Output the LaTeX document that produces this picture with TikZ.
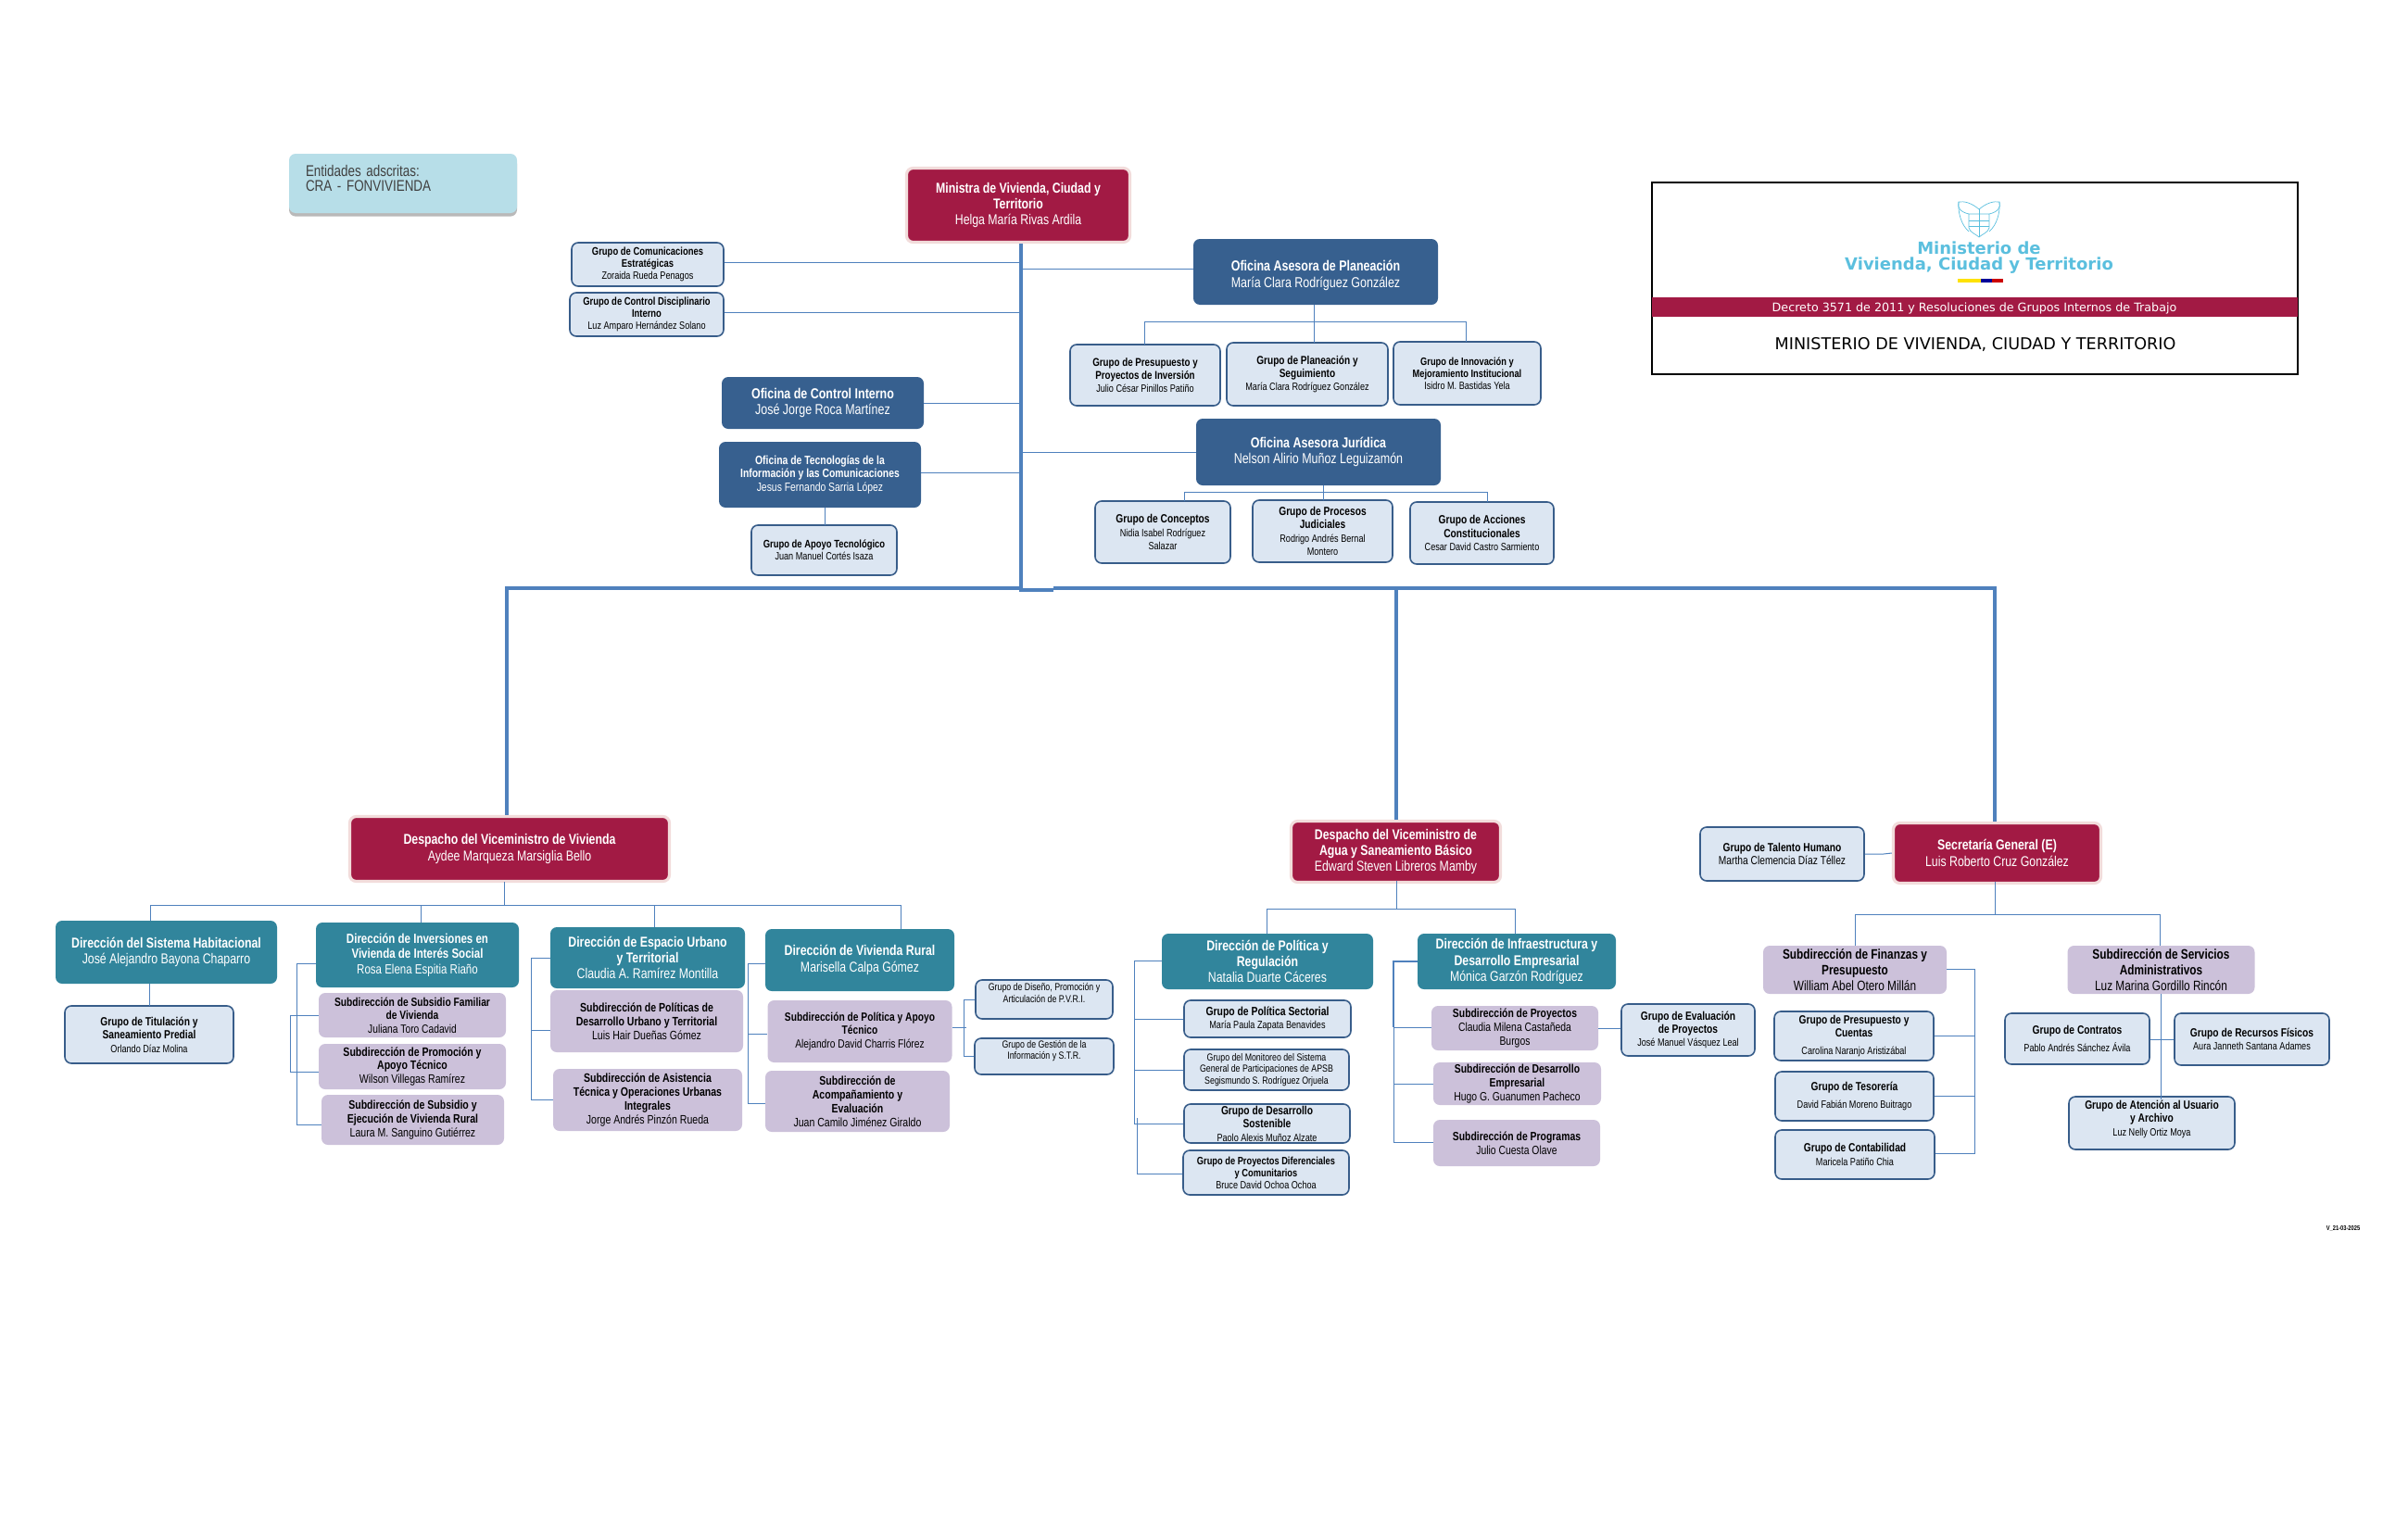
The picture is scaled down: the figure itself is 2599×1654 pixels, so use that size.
\documentclass[tikz,border=0pt]{standalone}
\usepackage{fontspec}
\setmainfont[FakeStretch=0.8]{Liberation Sans}
\newfontfamily\marca{DejaVu Sans}
\usetikzlibrary{shadows}
\definecolor{rojo}{HTML}{A21A44}
\definecolor{rosa}{HTML}{F2DCDB}
\definecolor{azul}{HTML}{37608F}
\definecolor{teal}{HTML}{31859C}
\definecolor{lila}{HTML}{CCC1DA}
\definecolor{claro}{HTML}{DCE6F2}
\definecolor{borde}{HTML}{385D8A}
\definecolor{linea}{HTML}{4F81BD}
\definecolor{cielo}{HTML}{B7DEE8}
\definecolor{logo}{HTML}{5BBFDE}
\newcommand{\fs}[1]{\fontsize{#1}{1.13\dimexpr#1pt\relax}\selectfont}
\newcommand{\nm}[1]{{\fontsize{5.7}{6.6}\selectfont #1}}
\tikzset{
  wh/.style 2 args={minimum width=#1*0.5pt,minimum height=#2*0.5pt},
  caja/.style={align=center,inner sep=0pt,rounded corners=3.5pt},
  despacho/.style={caja,fill=rojo,draw=rosa,line width=1.6pt,text=white,font=\fs{7.7}},
  oficina/.style={caja,fill=azul,text=white,font=\fs{7.8}},
  direccion/.style={caja,fill=teal,text=white,font=\fs{7.7}},
  subdir/.style={caja,fill=lila,font=\fs{6.6}},
  grupo/.style={caja,fill=claro,draw=borde,line width=0.8pt,font=\fs{6.4}},
  rama/.style={draw=linea,line width=0.5pt},
  tronco/.style={draw=linea,line width=1.9pt}
}
\begin{document}
\begin{tikzpicture}[x=0.5pt,y=-0.5pt]
\useasboundingbox (0,0) rectangle (2599,1654);

% entidades
\node[caja,fill=cielo,wh={246}{64},text=black!75,font=\fs{8.4},align=left,text width=105pt,
  drop shadow={shadow xshift=0pt,shadow yshift=-1.8pt,opacity=.55}] (entidades) at (435,198) {Entidades adscritas:\\[-1.4pt]CRA - FONVIVIENDA\\[-4pt]~};

% titulo
\node[draw=black,line width=1.3pt,inner sep=0pt,wh={697}{207}] (marco) at (2131.5,300.5) {};
\fill[rojo] (1783,321) rectangle (2480,342);
\node[inner sep=0pt,text=white,font=\marca\fontsize{6.35}{7}\selectfont] (decreto) at (2131,333) {Decreto 3571 de 2011 y Resoluciones de Grupos Internos de Trabajo};
\node[inner sep=0pt,font=\marca\fontsize{8.8}{9}\selectfont] (minvivienda) at (2132,372) {MINISTERIO DE VIVIENDA, CIUDAD Y TERRITORIO};
\node[inner sep=0pt,align=center,text=logo,font=\marca\bfseries\fontsize{9}{8.3}\selectfont] (logotxt) at (2136,278) {Ministerio de\\Vivienda, Ciudad y Territorio};
% escudo
\begin{scope}[draw=logo,line width=0.35pt]
\draw (2125,231) -- (2125,246) .. controls (2126,251) and (2133,253) .. (2136,256) .. controls (2139,253) and (2146,251) .. (2147,246) -- (2147,231) -- cycle;
\draw (2125,238) -- (2147,238) (2125,244) -- (2147,244);
\draw (2125,231) .. controls (2116,229) and (2112,224) .. (2114,218) .. controls (2120,217) and (2128,219) .. (2136,226) .. controls (2144,219) and (2152,217) .. (2158,218) .. controls (2160,224) and (2156,229) .. (2147,231);
\draw (2114,218) .. controls (2113,230) and (2117,243) .. (2125,250);
\draw (2158,218) .. controls (2159,230) and (2155,243) .. (2147,250);
\draw (2136,226) -- (2136,256);
\end{scope}
\fill[yellow!85!orange] (2113,301) rectangle (2138,305);
\fill[blue!60!black] (2138,301) rectangle (2150,305);
\fill[red!80!black] (2150,301) rectangle (2162,305);

% ministra y oficinas
\node[despacho,wh={241}{80}] (ministra) at (1099,221.5) {\textbf{Ministra de Vivienda, Ciudad y}\\\textbf{Territorio}\\Helga María Rivas Ardila};
\node[grupo,wh={164}{47},font=\fs{5.9}] (comunicaciones) at (699,285.5) {\textbf{Grupo de Comunicaciones}\\\textbf{Estratégicas}\\\nm{Zoraida Rueda Penagos}};
\node[grupo,wh={166}{47},font=\fs{5.9}] (disciplinario) at (698,339.5) {\textbf{Grupo de Control Disciplinario}\\\textbf{Interno}\\\nm{Luz Amparo Hernández Solano}};
\node[oficina,wh={218}{56}] (control) at (888,435) {\textbf{Oficina de Control Interno}\\José Jorge Roca Martínez};
\node[oficina,wh={218}{71},font=\fs{6.5}] (tecnologia) at (885,512.5) {\textbf{Oficina de Tecnologías de la}\\\textbf{Información y las Comunicaciones}\\Jesus Fernando Sarria López};
\node[grupo,wh={157}{54},font=\fs{5.9}] (apoyotec) at (889.5,594) {\textbf{Grupo de Apoyo Tecnológico}\\\nm{Juan Manuel Cortés Isaza}};
\node[oficina,wh={264}{71}] (planeacion) at (1420,293.5) {~\\[1pt]\textbf{Oficina Asesora de Planeación}\\María Clara Rodríguez González};
\node[grupo,wh={162}{66},font=\fs{6.1}] (presupuesto) at (1236,405) {\textbf{Grupo de Presupuesto y}\\\textbf{Proyectos de Inversión}\\\nm{Julio César Pinillos Patiño}};
\node[grupo,wh={174}{68},font=\fs{6.3}] (seguimiento) at (1411,404) {\textbf{Grupo de Planeación y}\\\textbf{Seguimiento}\\\nm{María Clara Rodríguez González}};
\node[grupo,wh={159}{68},font=\fs{5.8}] (innovacion) at (1583.5,403) {\textbf{Grupo de Innovación y}\\\textbf{Mejoramiento Institucional}\\\nm{Isidro M. Bastidas Yela}};
\node[oficina,wh={264}{72}] (juridica) at (1423,488) {\textbf{Oficina Asesora Jurídica}\\Nelson Alirio Muñoz Leguizamón};
\node[grupo,wh={146}{67}] (conceptos) at (1255,574.5) {\textbf{Grupo de Conceptos}\\\nm{Nidia Isabel Rodríguez}\\\nm{Salazar}};
\node[grupo,wh={151}{67}] (procesos) at (1427.5,573.5) {\textbf{Grupo de Procesos}\\\textbf{Judiciales}\\\nm{Rodrigo Andrés Bernal}\\\nm{Montero}};
\node[grupo,wh={155}{67}] (acciones) at (1599.5,575.5) {\textbf{Grupo de Acciones}\\\textbf{Constitucionales}\\\nm{Cesar David Castro Sarmiento}};

% viceministerio de vivienda
\node[despacho,wh={345}{70}] (vivienda) at (550,916.5) {\textbf{Despacho del Viceministro de Vivienda}\\Aydee Marqueza Marsiglia Bello};
\node[direccion,wh={239}{68}] (habitacional) at (179.5,1028) {\textbf{Dirección del Sistema Habitacional}\\José Alejandro Bayona Chaparro};
\node[grupo,wh={182}{62}] (titulacion) at (161,1117) {\textbf{Grupo de Titulación y}\\\textbf{Saneamiento Predial}\\\nm{Orlando Díaz Molina}};
\node[direccion,wh={219}{70},font=\fs{7.2}] (inversiones) at (450.5,1031) {\textbf{Dirección de Inversiones en}\\\textbf{Vivienda de Interés Social}\\Rosa Elena Espitia Riaño};
\node[subdir,wh={202}{48},font=\fs{6.4}] (familiar) at (445,1096) {\textbf{Subdirección de Subsidio Familiar}\\\textbf{de Vivienda}\\Juliana Toro Cadavid};
\node[subdir,wh={202}{49}] (promocion) at (445,1151.5) {\textbf{Subdirección de Promoción y}\\\textbf{Apoyo Técnico}\\Wilson Villegas Ramírez};
\node[subdir,wh={197}{54}] (subsidio) at (445.5,1209) {\textbf{Subdirección de Subsidio y}\\\textbf{Ejecución de Vivienda Rural}\\Laura M. Sanguino Gutiérrez};
\node[direccion,wh={210}{66}] (espacio) at (699,1034) {\textbf{Dirección de Espacio Urbano}\\\textbf{y Territorial}\\Claudia A. Ramírez Montilla};
\node[subdir,wh={208}{67}] (politicas) at (698,1102.5) {\textbf{Subdirección de Políticas de}\\\textbf{Desarrollo Urbano y Territorial}\\Luis Hair Dueñas Gómez};
\node[subdir,wh={204}{67}] (asistencia) at (699,1187.5) {\textbf{Subdirección de Asistencia}\\\textbf{Técnica y Operaciones Urbanas}\\\textbf{Integrales}\\Jorge Andrés Pinzón Rueda};
\node[direccion,wh={204}{67}] (rural) at (928,1036.5) {\textbf{Dirección de Vivienda Rural}\\Marisella Calpa Gómez};
\node[subdir,wh={199}{67},font=\fs{6.4}] (politicaapoyo) at (928,1113.5) {\textbf{Subdirección de Política y Apoyo}\\\textbf{Técnico}\\Alejandro David Charris Flórez};
\node[subdir,wh={199}{66}] (acompanamiento) at (925.5,1189) {\textbf{Subdirección de}\\\textbf{Acompañamiento y}\\\textbf{Evaluación}\\Juan Camilo Jiménez Giraldo};
\node[grupo,wh={148}{42},font=\fs{5.5}] (diseno) at (1127,1079) {Grupo de Diseño, Promoción y\\Articulación de P.V.R.I.\\[1pt]~};
\node[grupo,wh={150}{39},font=\fs{5.5}] (gestion) at (1127,1140.5) {Grupo de Gestión de la\\Información y S.T.R.\\[1pt]~};

% viceministerio de agua
\node[despacho,wh={226}{66}] (agua) at (1506.5,919.5) {\textbf{Despacho del Viceministro de}\\\textbf{Agua y Saneamiento Básico}\\Edward Steven Libreros Mamby};
\node[direccion,wh={228}{60}] (regulacion) at (1368,1038) {\textbf{Dirección de Política y}\\\textbf{Regulación}\\Natalia Duarte Cáceres};
\node[direccion,wh={214}{60}] (infraestructura) at (1637,1038) {\textbf{Dirección de Infraestructura y}\\\textbf{Desarrollo Empresarial}\\Mónica Garzón Rodríguez};
\node[grupo,wh={180}{40},font=\fs{6.5}] (sectorial) at (1368,1100) {\textbf{Grupo de Política Sectorial}\\\nm{María Paula Zapata Benavides}};
\node[grupo,wh={178}{44},font=\fs{5.5}] (monitoreo) at (1367,1155) {Grupo del Monitoreo del Sistema\\General de Participaciones de APSB\\Segismundo S. Rodríguez Orjuela};
\node[grupo,wh={179}{42}] (sostenible) at (1367.5,1213) {\textbf{Grupo de Desarrollo}\\\textbf{Sostenible}\\\nm{Paolo Alexis Muñoz Alzate}};
\node[grupo,wh={179}{48},font=\fs{5.8}] (diferenciales) at (1366.5,1266) {\textbf{Grupo de Proyectos Diferenciales}\\\textbf{y Comunitarios}\\\nm{Bruce David Ochoa Ochoa}};
\node[subdir,wh={180}{48},font=\fs{6.5}] (proyectos) at (1635,1110) {\textbf{Subdirección de Proyectos}\\Claudia Milena Castañeda\\Burgos};
\node[subdir,wh={181}{46},font=\fs{6.5}] (empresarial) at (1637.5,1170) {\textbf{Subdirección de Desarrollo}\\\textbf{Empresarial}\\Hugo G. Guanumen Pacheco};
\node[subdir,wh={180}{50},font=\fs{6.5}] (programas) at (1637,1234) {\textbf{Subdirección de Programas}\\Julio Cuesta Olave};
\node[grupo,wh={144}{56}] (evaluacion) at (1822,1112) {\textbf{Grupo de Evaluación}\\\textbf{de Proyectos}\\\nm{José Manuel Vásquez Leal}};

% secretaria general
\node[despacho,wh={224}{65}] (secretaria) at (2155.5,921) {\textbf{Secretaría General (E)}\\Luis Roberto Cruz González};
\node[grupo,wh={177}{58}] (talento) at (1923.5,922) {\textbf{Grupo de Talento Humano}\\Martha Clemencia Díaz Téllez};
\node[subdir,wh={198}{52},font=\fs{7.4}] (finanzas) at (2002,1047) {\textbf{Subdirección de Finanzas y}\\\textbf{Presupuesto}\\William Abel Otero Millán};
\node[subdir,wh={202}{52},font=\fs{7.4}] (servicios) at (2332.5,1047) {\textbf{Subdirección de Servicios}\\\textbf{Administrativos}\\Luz Marina Gordillo Rincón};
\node[grupo,wh={172}{53}] (cuentas) at (2001,1118.5) {\textbf{Grupo de Presupuesto y}\\\textbf{Cuentas}\\[2pt]\nm{Carolina Naranjo Aristizábal}};
\node[grupo,wh={171}{53}] (tesoreria) at (2001.5,1183.5) {\textbf{Grupo de Tesorería}\\[2pt]\nm{David Fabián Moreno Buitrago}};
\node[grupo,wh={172}{53}] (contabilidad) at (2002,1246.5) {\textbf{Grupo de Contabilidad}\\\nm{Maricela Patiño Chia}};
\node[grupo,wh={156}{55}] (contratos) at (2242,1121.5) {\textbf{Grupo de Contratos}\\[2pt]\nm{Pablo Andrés Sánchez Ávila}};
\node[grupo,wh={167}{56}] (recursos) at (2430.5,1122) {\textbf{Grupo de Recursos Físicos}\\\nm{Aura Janneth Santana Adames}};
\node[grupo,wh={179}{57}] (atencion) at (2322.5,1212.5) {\textbf{Grupo de Atención al Usuario}\\\textbf{y Archivo}\\\nm{Luz Nelly Ortiz Moya}\\[-2pt]~};
\node[inner sep=0pt,font=\fs{3.6}\bfseries] (version) at (2529,1326) {V\_21-03-2025};

% puntos de union
\coordinate (nudoalto) at (1102,637);
\coordinate (nudomedio) at (1137,637);
\coordinate (nudoizq) at (547,635);
\coordinate (nudoagua) at (1507,635);
\coordinate (nudosec) at (2153,635);

% lineas gruesas
\draw[tronco] (ministra.south -| nudoalto) -- (nudoalto) -- (nudomedio);
\draw[tronco] (nudoalto |- nudoizq) -- (nudoizq) -- (nudoizq |- vivienda.north);
\draw[tronco] (nudomedio |- nudoizq) -- (nudosec) -- (nudosec |- secretaria.north);
\draw[tronco] (nudoagua) -- (nudoagua |- agua.north);

% ramas del tronco
\draw[rama] (comunicaciones.east |- 0,283) -- (1102,283);
\draw[rama] (disciplinario.east |- 0,337) -- (1102,337);
\draw[rama] (control.east) -- (1102,435);
\draw[rama] (tecnologia.east |- 0,510) -- (1102,510);
\draw[rama] (planeacion.west |- 0,290) -- (1102,290);
\draw[rama] (juridica.west) -- (1102,488);
\draw[rama] (890,548) -- (890,567);

% planeacion y juridica
\draw[rama] (1418,329) -- (1418,370);
\draw[rama] (1235,372) -- (1235,347) -- (1582,347) -- (1582,369);
\draw[rama] (1428,524) -- (1428,540);
\draw[rama] (1278,541) -- (1278,531) -- (1605,531) -- (1605,542);

% vivienda
\draw[rama] (544.5,952) -- (544.5,977);
\draw[rama] (162,994) -- (162,977) -- (972,977) -- (972,1003);
\draw[rama] (454,977) -- (454,996);
\draw[rama] (706.5,977) -- (706.5,1001);
\draw[rama] (161,1062) -- (161,1086);
\draw[rama] (inversiones.west |- 0,1040) -- (320,1040) -- (320,1214) -- (subsidio.west |- 0,1214);
\draw[rama] (familiar.west) -- (313.5,1096) -- (313.5,1157) -- (promocion.west |- 0,1157);
\draw[rama] (espacio.west) -- (573.5,1034) -- (573.5,1112);
\draw[rama] (politicas.west |- 0,1112) -- (573,1112) -- (573,1187) -- (asistencia.west |- 0,1187);
\draw[rama] (rural.west |- 0,1040) -- (807,1040) -- (807,1191) -- (acompanamiento.west |- 0,1191);
\draw[rama] (807,1116) -- (politicaapoyo.west |- 0,1116);
\draw[rama] (politicaapoyo.east |- 0,1109) -- (1043,1109);
\draw[rama] (diseno.west) -- (1040,1079) -- (1040,1140) -- (gestion.west |- 0,1140);

% agua
\draw[rama] (1507.5,951) -- (1507.5,981);
\draw[rama] (1367,1008) -- (1367,981) -- (1635,981) -- (1635,1008);
\draw[rama] (regulacion.west |- 0,1037) -- (1224.5,1037) -- (1224.5,1213) -- (sostenible.west);
\draw[rama] (1224.5,1100) -- (sectorial.west);
\draw[rama] (1224.5,1155) -- (monitoreo.west);
\draw[rama] (1227.5,1207) -- (1227.5,1267) -- (diferenciales.west |- 0,1267);
\draw[rama,line width=.9pt] (infraestructura.west) -- (1504,1038) -- (1504,1109);
\draw[rama] (1504,1109) -- (proyectos.west |- 0,1109);
\draw[rama] (1504,1109) -- (1504,1233) -- (programas.west |- 0,1233);
\draw[rama] (1504,1170) -- (empresarial.west);
\draw[rama] (proyectos.east) -- (evaluacion.west |- 0,1110);

% secretaria
\draw[rama] (talento.east) -- (2033,922) -- (secretaria.west);
\draw[rama] (2153.5,952) -- (2153.5,987);
\draw[rama] (2002,1021) -- (2002,987) -- (2331,987) -- (2331,1021);
\draw[rama] (finanzas.east |- 0,1046) -- (2131,1046) -- (2131,1245) -- (contabilidad.east |- 0,1245);
\draw[rama] (cuentas.east) -- (2131,1118.5);
\draw[rama] (tesoreria.east) -- (2131,1183.5);
\draw[rama] (2332.5,1073) -- (2332.5,1187);
\draw[rama] (contratos.east |- 0,1122) -- (recursos.west);
\end{tikzpicture}
\end{document}
